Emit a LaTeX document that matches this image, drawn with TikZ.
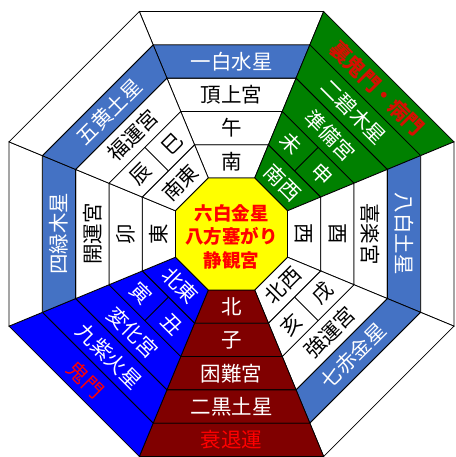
\documentclass[tikz,border=0pt]{standalone}
\usepackage{fontspec}
\setmainfont{Noto Sans CJK JP}
\usetikzlibrary{calc}
\definecolor{starblue}{HTML}{4472C4}
\definecolor{grn}{HTML}{008000}
\definecolor{blu}{HTML}{0000FF}
\definecolor{mroon}{HTML}{800000}
\definecolor{ylw}{HTML}{FFFF00}
\definecolor{txtred}{HTML}{FF0000}
\definecolor{gred}{HTML}{D41000}
\newcommand\cellq[4]{%
  \pgfmathsetmacro\cAa{#4-22.5}\pgfmathsetmacro\cAb{#4+22.5}%
  \pgfmathsetmacro\cRi{#2*1.0823922}\pgfmathsetmacro\cRo{#3*1.0823922}%
  \filldraw[cellline,fill=#1] (\cAa:\cRi pt) -- (\cAb:\cRi pt) -- (\cAb:\cRo pt) -- (\cAa:\cRo pt) -- cycle;}
\begin{document}
\begin{tikzpicture}[x=1pt,y=1pt,
  cellline/.style={draw=black,line width=0.8pt},
  lbl/.style={font=\fontsize{20.5}{24}\selectfont,inner sep=0pt},
  wt/.style={lbl,text=white},
  bk/.style={lbl,text=black},
  rd/.style={lbl,text=txtred}]
\useasboundingbox (-231.5,-223) rectangle (223.5,234);
\clip (-231.5,-223) rectangle (223.5,234);
\foreach \t/\c/\s in {90/white/starblue,45/grn/grn,0/white/starblue,-45/white/starblue,-90/mroon/mroon,-135/blu/blu,180/white/starblue,135/white/starblue}{
  \cellq{\c}{56}{89.3}{\t}
  \cellq{\c}{89.3}{122.6}{\t}
  \cellq{\c}{122.6}{155.9}{\t}
  \cellq{\s}{155.9}{189.2}{\t}
  \cellq{\c}{189.2}{222.5}{\t}
}
\foreach \t in {45,-45,-135,135}{\draw[cellline] (\t:89.3pt) -- (\t:122.6pt);}
\filldraw[cellline,fill=ylw] (22.5:60.61pt) -- (67.5:60.61pt) -- (112.5:60.61pt) -- (157.5:60.61pt) -- (202.5:60.61pt) -- (247.5:60.61pt) -- (292.5:60.61pt) -- (337.5:60.61pt) -- cycle;
\node[align=center,text=txtred,font=\fontsize{18.5}{23.5}\selectfont\bfseries,inner sep=0pt] (ctr) at (0,-2.5) {六白金星\\八方塞がり\\静観宮};
% N
\node[bk] (n1) at (90:72.65pt) {南};
\node[bk] (n2) at (90:105.95pt) {午};
\node[bk] (n3) at (90:139.25pt) {頂上宮};
\node[wt] (n4) at (90:172.55pt) {一白水星};
% NE
\node[wt,rotate=-45] (ne1) at (45:72.65pt) {南西};
\node[wt,rotate=-45] (ne2a) at ($(45:105.95pt)+(135:22pt)$) {未};
\node[wt,rotate=-45] (ne2b) at ($(45:105.95pt)+(-45:22pt)$) {申};
\node[wt,rotate=-45] (ne3) at (45:139.25pt) {準備宮};
\node[wt,rotate=-45] (ne4) at (45:172.55pt) {二碧木星};
\node[rd,text=gred,font=\fontsize{20.5}{24}\selectfont\bfseries,rotate=-45] (ne5) at (45:205.85pt) {裏鬼門・病門};
% E
\node[bk,rotate=-90] (e1) at (0:72.65pt) {西};
\node[bk,rotate=-90] (e2) at (0:105.95pt) {酉};
\node[bk,rotate=-90] (e3) at (0:139.25pt) {喜楽宮};
\node[wt,rotate=-90] (e4) at (0:172.55pt) {八白土星};
% SE
\node[bk,rotate=45] (se1) at (-45:72.65pt) {北西};
\node[bk,rotate=45] (se2a) at ($(-45:105.95pt)+(45:22pt)$) {戌};
\node[bk,rotate=45] (se2b) at ($(-45:105.95pt)+(-135:22pt)$) {亥};
\node[bk,rotate=45] (se3) at (-45:139.25pt) {強運宮};
\node[wt,rotate=45] (se4) at (-45:172.55pt) {七赤金星};
% S
\node[wt] (s1) at (-90:72.65pt) {北};
\node[wt] (s2) at (-90:105.95pt) {子};
\node[wt] (s3) at (-90:139.25pt) {困難宮};
\node[wt] (s4) at (-90:172.55pt) {二黒土星};
\node[rd] (s5) at (-90:205.85pt) {衰退運};
% SW
\node[wt,rotate=-45] (sw1) at (-135:72.65pt) {北東};
\node[wt,rotate=-45] (sw2a) at ($(-135:105.95pt)+(135:22pt)$) {寅};
\node[wt,rotate=-45] (sw2b) at ($(-135:105.95pt)+(-45:22pt)$) {丑};
\node[wt,rotate=-45] (sw3) at (-135:139.25pt) {変化宮};
\node[wt,rotate=-45] (sw4) at (-135:172.55pt) {九紫火星};
\node[rd,rotate=-45] (sw5) at (-135:205.85pt) {鬼門};
% W
\node[bk,rotate=90] (w1) at (180:72.65pt) {東};
\node[bk,rotate=90] (w2) at (180:105.95pt) {卯};
\node[bk,rotate=90] (w3) at (180:139.25pt) {開運宮};
\node[wt,rotate=90] (w4) at (180:172.55pt) {四緑木星};
% NW
\node[bk,rotate=45] (nw1) at (135:72.65pt) {南東};
\node[bk,rotate=45] (nw2a) at ($(135:105.95pt)+(-135:22pt)$) {辰};
\node[bk,rotate=45] (nw2b) at ($(135:105.95pt)+(45:22pt)$) {巳};
\node[bk,rotate=45] (nw3) at (135:139.25pt) {福運宮};
\node[wt,rotate=45] (nw4) at (135:172.55pt) {五黄土星};
\end{tikzpicture}
\end{document}
